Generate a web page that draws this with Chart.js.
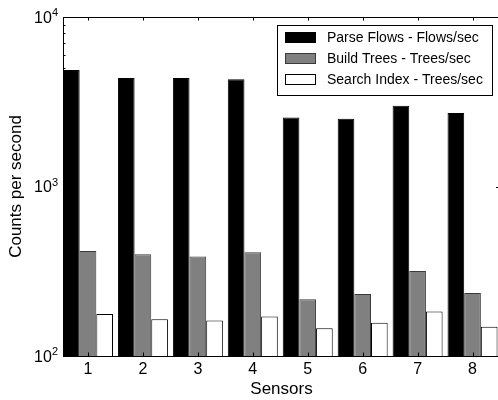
<!DOCTYPE html>
<html>
<head>
<meta charset="utf-8">
<script src="https://cdn.jsdelivr.net/npm/chart.js@4/dist/chart.umd.min.js"></script>
<style>
  html, body { margin: 0; padding: 0; background: #fff; overflow: hidden; }
  #wrap { width: 498px; height: 400px; overflow: hidden; }
  canvas { display: block; }
</style>
</head>
<body>
<div id="wrap"><canvas id="chart" width="502" height="400"></canvas></div>
<script>
// ── Data ────────────────────────────────────────────────────────────
const sensors     = [1, 2, 3, 4, 5, 6, 7, 8];
const parseFlows  = [4870, 4360, 4360, 4300, 2550, 2510, 2990, 2710];
const buildTrees  = [416, 398, 386, 409, 216, 232, 317, 235];
const searchIndex = [177, 165, 162, 171, 146, 157, 183, 149];
const yDecades    = [100, 1000, 10000];

const FONT = 'Helvetica, "Liberation Sans", Arial, sans-serif';

const series = [
  { label: 'Parse Flows - Flows/sec',   values: parseFlows,  fill: '#000000', edge: '#000000' },
  { label: 'Build Trees - Trees/sec',   values: buildTrees,  fill: '#808080', edge: '#3a3a3a' },
  { label: 'Search Index - Trees/sec',  values: searchIndex, fill: '#ffffff', edge: '#000000' }
];

// ── Frame, inward ticks, y labels, legend ───────────────────────────
const framePlugin = {
  id: 'frame',
  afterDatasetsDraw(chart) {
    const { ctx, chartArea: a, scales: { x, y } } = chart;
    ctx.save();
    ctx.strokeStyle = '#000';
    ctx.lineWidth = 1;

    // inward ticks
    ctx.beginPath();
    sensors.forEach(s => {
      const px = Math.round(x.getPixelForValue(s)) + 0.5;
      ctx.moveTo(px, a.top); ctx.lineTo(px, a.top + 3.5);
      ctx.moveTo(px, a.bottom); ctx.lineTo(px, a.bottom - 3.5);
    });
    y.ticks.forEach(t => {
      const py = Math.round(y.getPixelForValue(t.value)) + 0.5;
      const major = yDecades.includes(t.value);
      ctx.moveTo(a.left, py); ctx.lineTo(a.left + (major ? 4 : 2.5), py);
      if (major) { ctx.moveTo(a.right, py); ctx.lineTo(a.right - 4, py); }
    });
    ctx.stroke();

    // frame
    ctx.strokeRect(Math.round(a.left) + 0.5, Math.round(a.top) + 0.5,
                   Math.round(a.right - a.left), Math.round(a.bottom - a.top));

    // y labels: 10 with superscript exponent
    ctx.fillStyle = '#000';
    ctx.textBaseline = 'alphabetic';
    yDecades.forEach(v => {
      const py = y.getPixelForValue(v);
      const exp = String(Math.round(Math.log10(v)));
      ctx.font = '11px ' + FONT;
      const ew = ctx.measureText(exp).width;
      ctx.textAlign = 'left';
      ctx.fillText(exp, a.left - 5 - ew, py - 1);
      ctx.font = '16px ' + FONT;
      ctx.textAlign = 'right';
      ctx.fillText('10', a.left - 5 - ew, py + 5.5);
    });

    // legend box
    const lx = a.right - 223, ly = a.top + 8, lw = 215, lh = 70;
    ctx.fillStyle = '#fff';
    ctx.fillRect(lx, ly, lw, lh);
    ctx.strokeRect(Math.round(lx) + 0.5, Math.round(ly) + 0.5, lw, lh);
    ctx.font = '14px ' + FONT;
    ctx.textAlign = 'left';
    ctx.textBaseline = 'middle';
    chart.data.datasets.forEach((ds, i) => {
      const cy = ly + 12 + i * 21;
      ctx.fillStyle = ds.backgroundColor;
      ctx.fillRect(lx + 8, cy - 5, 30, 10);
      ctx.strokeStyle = ds.borderColor;
      ctx.strokeRect(Math.round(lx + 8) + 0.5, Math.round(cy - 5) + 0.5, 30, 10);
      ctx.fillStyle = '#000';
      ctx.fillText(ds.label, lx + 50, cy + 1);
    });
    ctx.restore();
  }
};

// ── Chart ───────────────────────────────────────────────────────────
new Chart(document.getElementById('chart'), {
  type: 'bar',
  data: {
    datasets: series.map(s => ({
      label: s.label,
      data: sensors.map((x, i) => ({ x, y: s.values[i] })),
      backgroundColor: s.fill,
      borderColor: s.edge,
      borderWidth: 1,
      borderSkipped: 'bottom',
      categoryPercentage: 0.91,
      barPercentage: 1.0
    }))
  },
  options: {
    responsive: false,
    devicePixelRatio: 1,
    animation: false,
    layout: { padding: { left: 0, right: 2, top: 17, bottom: 0 } },
    plugins: { legend: { display: false }, tooltip: { enabled: false } },
    scales: {
      x: {
        type: 'linear',
        offset: false,
        min: 0.545,
        max: 8.5,
        afterBuildTicks: s => { s.ticks = sensors.map(v => ({ value: v })); },
        afterFit: s => { s.height = 44; },
        grid: { display: false, drawTicks: false, offset: false },
        border: { display: false },
        ticks: { color: '#000', font: { family: FONT, size: 16 }, padding: 4,
                 callback: v => String(v) },
        title: { display: true, text: 'Sensors', color: '#000',
                 font: { family: FONT, size: 17 }, padding: { top: 0, bottom: 0 } }
      },
      y: {
        type: 'logarithmic',
        min: 100,
        max: 10000,
        afterFit: s => { s.width = 63; },
        grid: { display: false, drawTicks: false },
        border: { display: false },
        ticks: { display: false },
        title: { display: true, text: 'Counts per second', color: '#000',
                 font: { family: FONT, size: 17 }, padding: { top: 6, bottom: 0 } }
      }
    }
  },
  plugins: [framePlugin]
});
</script>
</body>
</html>
